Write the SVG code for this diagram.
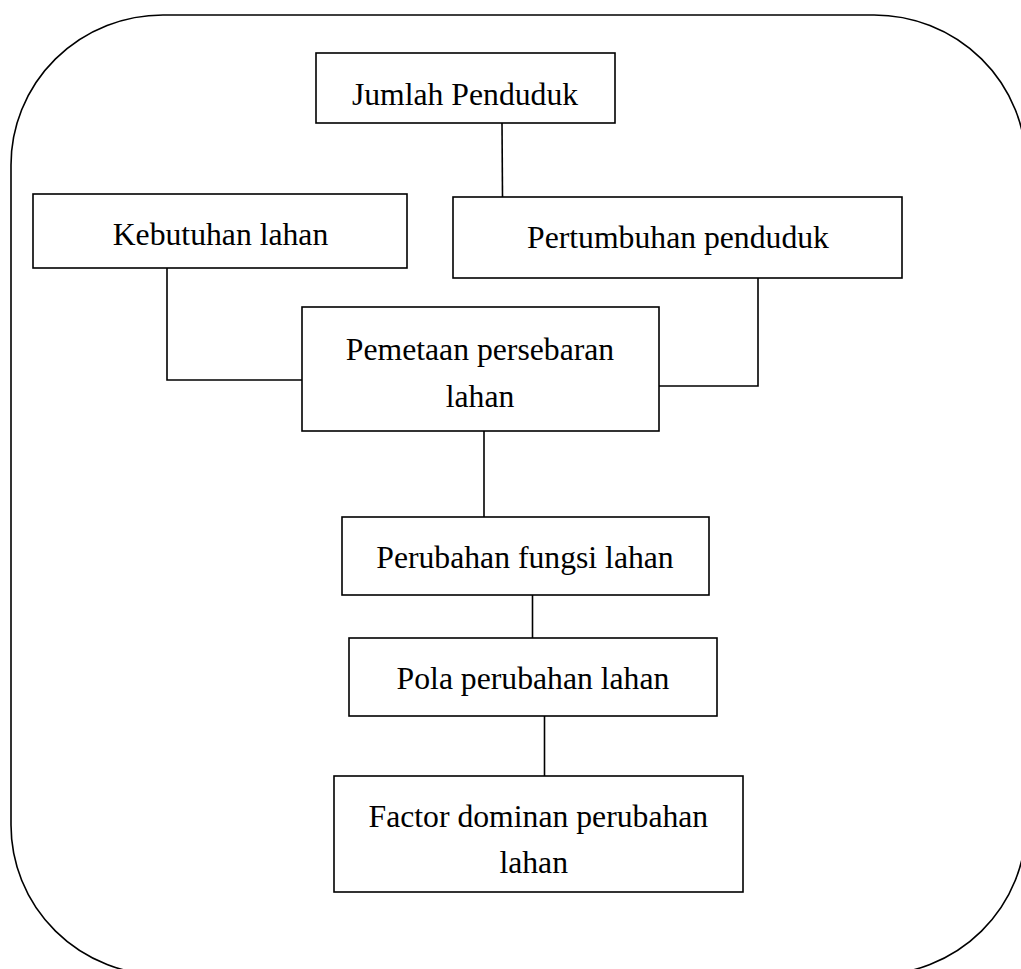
<svg xmlns="http://www.w3.org/2000/svg" width="1021" height="969" viewBox="0 0 1021 969">
<style>
.box{fill:#fff;stroke:#000;stroke-width:1.6}
.frame{fill:none;stroke:#000;stroke-width:1.6}
.conn{fill:none;stroke:#000;stroke-width:1.6}
text{font-family:"Liberation Serif","Times New Roman",serif;font-size:31.7px;fill:#000;text-anchor:middle}
</style>
<rect width="1021" height="969" fill="#fff"/>
<rect class="frame" x="11" y="15" width="1015" height="960" rx="152" ry="150"/>
<g id="connectors">
<line class="conn" x1="502" y1="123" x2="502.5" y2="197"/>
<polyline class="conn" points="167,268 167,380 302,380"/>
<polyline class="conn" points="758,278 758,386 659,386"/>
<line class="conn" x1="484" y1="431" x2="484" y2="517"/>
<line class="conn" x1="532.5" y1="595" x2="532.5" y2="638"/>
<line class="conn" x1="544.5" y1="716" x2="544.5" y2="776"/>
</g>
<g id="jumlah">
<rect class="box" x="316" y="53" width="299" height="70"/>
<text x="465" y="105">Jumlah Penduduk</text>
</g>
<g id="kebutuhan">
<rect class="box" x="33" y="194" width="374" height="74"/>
<text x="220.5" y="245">Kebutuhan lahan</text>
</g>
<g id="pertumbuhan">
<rect class="box" x="453" y="197" width="449" height="81"/>
<text x="678" y="248">Pertumbuhan penduduk</text>
</g>
<g id="pemetaan">
<rect class="box" x="302" y="307" width="357" height="124"/>
<text x="480" y="360">Pemetaan persebaran</text>
<text x="480" y="406.7">lahan</text>
</g>
<g id="perubahan">
<rect class="box" x="342" y="517" width="367" height="78"/>
<text x="525" y="568">Perubahan fungsi lahan</text>
</g>
<g id="pola">
<rect class="box" x="349" y="638" width="368" height="78"/>
<text x="533" y="689">Pola perubahan lahan</text>
</g>
<g id="factor">
<rect class="box" x="334" y="776" width="409" height="116"/>
<text x="538.4" y="826.7">Factor dominan perubahan</text>
<text x="533.7" y="873">lahan</text>
</g>
</svg>
